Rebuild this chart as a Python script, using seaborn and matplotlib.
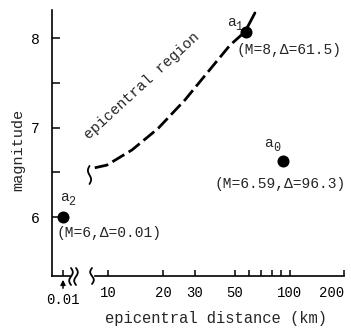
import numpy as np
import matplotlib
matplotlib.use("Agg")
import matplotlib.pyplot as plt
import seaborn as sns
import pandas as pd
from matplotlib.lines import Line2D
from matplotlib.ticker import FixedLocator, FixedFormatter, NullFormatter

# ---- data ----
point_names = ["a0", "a1", "a2"]
point_sub = ["0", "1", "2"]
point_dist = [92.5, 57.5, 0.01]
point_mag = [6.63, 8.07, 6.0]
point_text = ["(M=6.59,\u0394=96.3)", "(M=8,\u0394=61.5)", "(M=6,\u0394=0.01)"]

region_dist = [8.4, 9.8, 13.5, 18.8, 26.5, 37.8, 46.9, 56.8]
region_mag = [6.55, 6.58, 6.75, 6.99, 7.31, 7.69, 7.92, 8.07]
region_top_dist = [56.8, 64.4]
region_top_mag = [8.07, 8.28]

x_ticks = [10, 20, 30, 50, 100, 200]
x_ticklabels = ["10", "20", "30", "50", "100", "200"]
x_minor = [60, 70, 80, 90]
x_near = [0.01]
x_near_labels = ["0.01"]
y_ticks = [6, 7, 8]
y_ticklabels = ["6", "7", "8"]
y_minor = [6.5, 7.5]

sns.set_theme(style="white")
plt.rcParams["font.family"] = ["Liberation Mono", "DejaVu Sans Mono"]

W, H = 351, 333
fig = plt.figure(figsize=(W / 100, H / 100), dpi=100)


def fx(px):
    return px / W


def fy(py):
    return 1 - py / H


YLIM = (5.341, 8.313)

# main (log) axes
ax = fig.add_axes([fx(52), fy(276), (344 - 52) / W, (276 - 10) / H])
ax.set_facecolor("none")
ax.set_xscale("log")
ax.set_xlim(4.875, 200)
ax.set_ylim(*YLIM)
for s in ["top", "right", "left"]:
    ax.spines[s].set_visible(False)
ax.spines["bottom"].set_bounds(8.45, 200)
ax.spines["bottom"].set_linewidth(1.2)
ax.spines["bottom"].set_color("black")
ax.xaxis.set_major_locator(FixedLocator(x_ticks))
ax.xaxis.set_major_formatter(FixedFormatter(x_ticklabels))
ax.xaxis.set_minor_locator(FixedLocator(x_minor))
ax.xaxis.set_minor_formatter(NullFormatter())
ax.tick_params(axis="x", which="both", direction="in", length=4.5, width=1.1,
               colors="black", labelsize=10, pad=7.5, bottom=True)
ax.tick_params(axis="y", left=False, labelleft=False)

# near-zero axes (left part with the y axis)
axl = fig.add_axes([fx(52), fy(276), 18 / W, (276 - 10) / H])
axl.set_facecolor("none")
axl.set_xlim(-0.001, 0.017)
axl.set_ylim(*YLIM)
for s in ["top", "right"]:
    axl.spines[s].set_visible(False)
for s in ["left", "bottom"]:
    axl.spines[s].set_linewidth(1.2)
    axl.spines[s].set_color("black")
axl.xaxis.set_major_locator(FixedLocator(x_near))
axl.xaxis.set_major_formatter(FixedFormatter(x_near_labels))
axl.yaxis.set_major_locator(FixedLocator(y_ticks))
axl.yaxis.set_major_formatter(FixedFormatter(y_ticklabels))
axl.yaxis.set_minor_locator(FixedLocator(y_minor))
axl.yaxis.set_minor_formatter(NullFormatter())
axl.tick_params(axis="x", which="both", direction="in", length=4.5, width=1.1,
                colors="black", labelsize=10, pad=12, bottom=True)
axl.tick_params(axis="y", which="both", direction="in", length=6, width=1.1,
                colors="black", labelsize=10.5, pad=9, left=True)

df = pd.DataFrame({"name": point_names, "sub": point_sub, "dist": point_dist,
                   "mag": point_mag, "text": point_text})
far = df[df["dist"] > 1]
near = df[df["dist"] <= 1]

# epicentral region curve
sns.lineplot(x=region_dist, y=region_mag, ax=ax, sort=False, estimator=None,
             color="black", linewidth=2.0, linestyle=(0, (5, 1.8)), clip_on=False)
sns.lineplot(x=region_top_dist, y=region_top_mag, ax=ax, sort=False, estimator=None,
             color="black", linewidth=2.0, clip_on=False)

sns.scatterplot(data=far, x="dist", y="mag", ax=ax, color="black", s=75,
                edgecolor="black", linewidth=0, clip_on=False, zorder=5)
sns.scatterplot(data=near, x="dist", y="mag", ax=axl, color="black", s=75,
                edgecolor="black", linewidth=0, clip_on=False, zorder=5)
ax.set_xlabel("")
ax.set_ylabel("")
axl.set_xlabel("")
axl.set_ylabel("")

# shift the last tick label so it stays inside the figure
fig.canvas.draw()
lbls = ax.get_xticklabels()
lbls[-1].set_horizontalalignment("right")
lbls[-1].set_x(lbls[-1].get_position()[0])

# labels: offsets in points (a, subscript, description)
label_offsets = {
    "a0": ((-10.8, 13), (-5.0, 9.4), (-2.0, -16.5), "center"),
    "a1": ((-10.8, 7.2), (-5.4, 3.6), (-7.2, -13.5), "left"),
    "a2": ((1.4, 14.4), (6.5, 10.8), (33.0, -11.5), "center"),
}
for _, r in df.iterrows():
    target = axl if r["dist"] <= 1 else ax
    oa, osub, otxt, ha = label_offsets[r["name"]]
    target.annotate("a", (r["dist"], r["mag"]), xytext=oa, textcoords="offset points",
                    ha="center", va="center", fontsize=10.5, annotation_clip=False)
    target.annotate(r["sub"], (r["dist"], r["mag"]), xytext=osub, textcoords="offset points",
                    ha="center", va="center", fontsize=8.5, annotation_clip=False)
    target.annotate(r["text"], (r["dist"], r["mag"]), xytext=otxt, textcoords="offset points",
                    ha=ha, va="center", fontsize=10.5, annotation_clip=False)

# region label
fig.text(fx(141.5), fy(86), "epicentral region", rotation=42.5, rotation_mode="anchor",
         ha="center", va="center", fontsize=10.6)

# axis titles
fig.text(fx(216), fy(318), "epicentral distance (km)", ha="center", va="center", fontsize=11.2)
fig.text(fx(18), fy(150), "magnitude", ha="center", va="center", rotation=90, fontsize=11)


# decorations: axis break squiggles, arrow, end mark of curve
def squiggle(x0, y0, y1, amp, flip=1):
    t = np.linspace(0, 1, 40)
    xs = x0 + flip * amp * np.sin(2 * np.pi * t)
    ys = y0 + (y1 - y0) * t
    fig.add_artist(Line2D(fx(xs), fy(ys), transform=fig.transFigure, color="black",
                          linewidth=1.3))


squiggle(71, 268, 285, 1.8)
squiggle(76, 268, 285, 1.8)
squiggle(92, 268, 284, 1.8, flip=-1)
squiggle(89.5, 166, 184, 1.6, flip=-1)

fig.add_artist(matplotlib.patches.FancyArrowPatch(
    (fx(63), fy(291)), (fx(63), fy(277)), transform=fig.transFigure,
    arrowstyle="-|>", mutation_scale=7, color="black", linewidth=1.1))

fig.savefig("out.png", dpi=100, facecolor="white")
